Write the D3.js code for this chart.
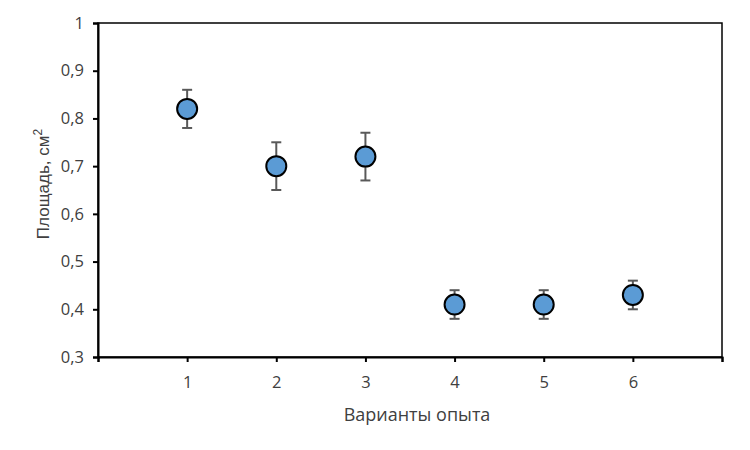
<!DOCTYPE html>
<html><head><meta charset="utf-8">
<script src="https://cdn.jsdelivr.net/npm/d3@7"></script>
<style>body{margin:0;background:#fff}svg{display:block}text{font-family:"Open Sans",sans-serif}</style>
</head><body><svg id="c" width="750" height="450"></svg>
<script>
const categories = [1, 2, 3, 4, 5, 6];
const values = [0.82, 0.70, 0.72, 0.41, 0.41, 0.43];
const errors = [0.04, 0.05, 0.05, 0.03, 0.03, 0.03];
const yTicks = [0.3, 0.4, 0.5, 0.6, 0.7, 0.8, 0.9, 1];
const xTicks = [0, 1, 2, 3, 4, 5, 6, 7];
const xLabel = "Варианты опыта";
const yLabel = "Площадь, см";

const svg = d3.select("#c");
const L = 98, R = 722, T = 23, B = 357;
const x = d3.scaleLinear().domain([0, 7]).range([L, R]);
const y = d3.scaleLinear().domain([0.3, 1]).range([B, T]);
const fmt = d => (d === 1 ? "1" : d3.format(".1f")(d).replace(".", ","));

// frame
svg.append("rect").attr("x", L).attr("y", T).attr("width", R - L).attr("height", B - T)
  .attr("fill", "none").attr("stroke", "#000").attr("stroke-width", 1.5);

const ya = svg.append("g").attr("transform", `translate(${L},0)`)
  .call(d3.axisLeft(y).tickValues(yTicks).tickFormat(fmt).tickSize(5).tickPadding(9));
const xa = svg.append("g").attr("transform", `translate(0,${B})`)
  .call(d3.axisBottom(x).tickValues(xTicks).tickFormat(d => (d >= 1 && d <= 6 ? d : "")).tickSize(5).tickPadding(14));
[ya, xa].forEach(g => {
  g.select(".domain").attr("stroke", "#000").attr("stroke-width", 2);
  g.selectAll(".tick line").attr("stroke", "#000").attr("stroke-width", 2);
  g.selectAll(".tick text").attr("fill", "#404040").style("font-size", "16.5px").style("font-family", "'Open Sans', sans-serif");
});

// labels
svg.append("text").attr("x", 417).attr("y", 421).attr("text-anchor", "middle")
  .attr("fill", "#404040").style("font-size", "18px").text(xLabel);
const yl = svg.append("text").attr("transform", "translate(49,184) rotate(-90)").attr("text-anchor", "middle")
  .attr("fill", "#404040").style("font-size", "17px").style("font-family", "'Liberation Sans', Arial, sans-serif");
yl.append("tspan").text(yLabel);
yl.append("tspan").attr("dy", -7).style("font-size", "12px").text("2");

const data = categories.map((c, i) => ({ c, v: values[i], e: errors[i] }));
const eb = svg.append("g").attr("stroke", "#595959").attr("stroke-width", 2);
data.forEach(d => {
  eb.append("line").attr("x1", x(d.c)).attr("x2", x(d.c)).attr("y1", y(d.v + d.e)).attr("y2", y(d.v - d.e));
  eb.append("line").attr("x1", x(d.c) - 5).attr("x2", x(d.c) + 5).attr("y1", y(d.v + d.e)).attr("y2", y(d.v + d.e));
  eb.append("line").attr("x1", x(d.c) - 5).attr("x2", x(d.c) + 5).attr("y1", y(d.v - d.e)).attr("y2", y(d.v - d.e));
});
svg.append("g").selectAll("circle").data(data).join("circle")
  .attr("cx", d => x(d.c)).attr("cy", d => y(d.v)).attr("r", 10)
  .attr("fill", "#5B9BD5").attr("stroke", "#000").attr("stroke-width", 2);
</script></body></html>
